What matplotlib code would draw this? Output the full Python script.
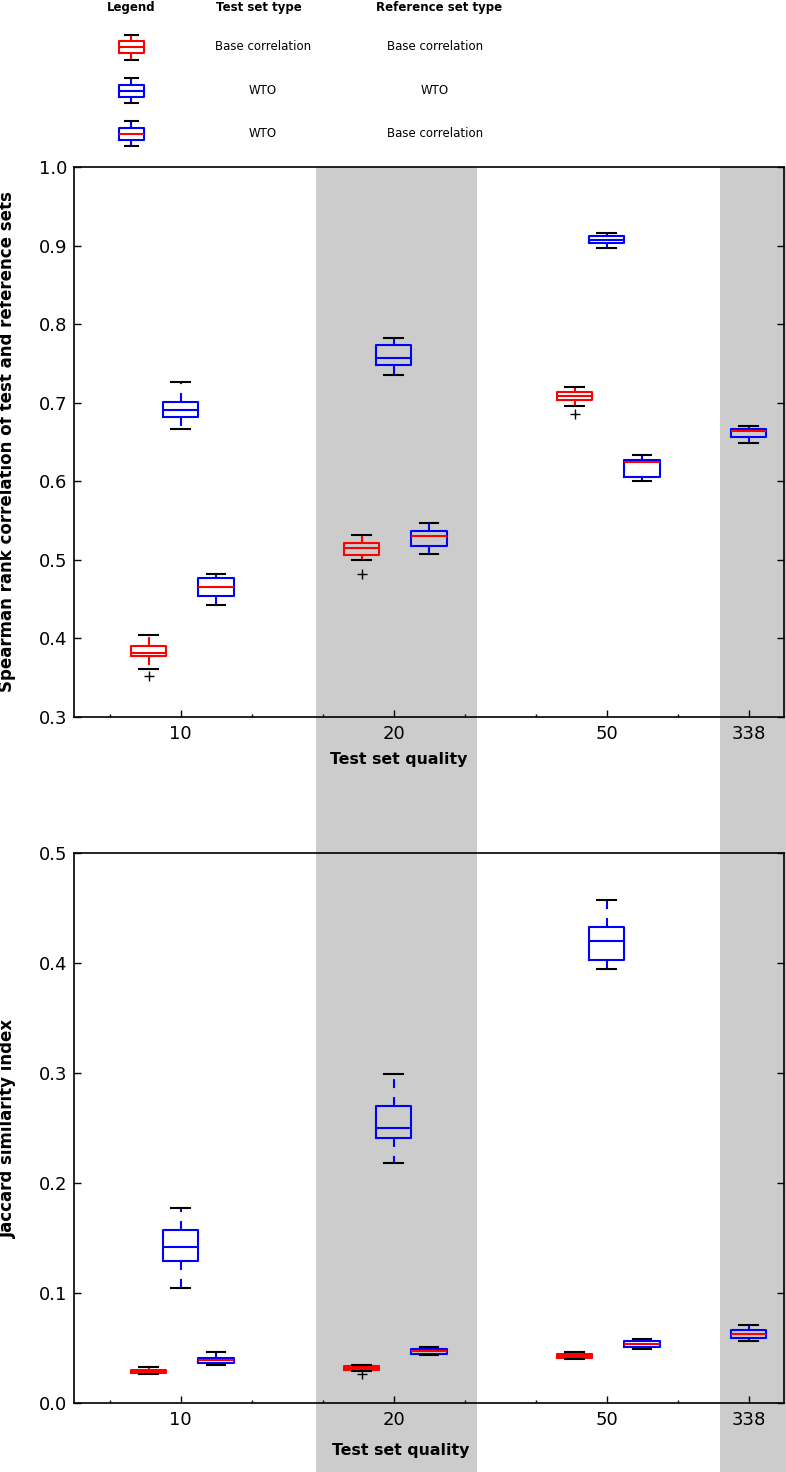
import matplotlib
matplotlib.use("Agg")
import matplotlib.pyplot as plt
from matplotlib import font_manager, transforms
from matplotlib.patches import Rectangle

# categorie sull'asse x
groups = ["10", "20", "50", "338"]
group_pos = [1, 7, 13, 17]

# statistiche dei box: (whisker basso, q1, mediana, q3, whisker alto)
# Spearman, test base / reference base (gruppi 10, 20, 50)
sp_base_base = [(0.361, 0.378, 0.381, 0.391, 0.405),
                (0.500, 0.506, 0.515, 0.522, 0.532),
                (0.696, 0.704, 0.709, 0.714, 0.720)]
sp_base_base_out = [[0.352], [0.482], [0.686]]
# Spearman, test WTO / reference WTO
sp_wto_wto = [(0.667, 0.682, 0.691, 0.701, 0.726),
              (0.735, 0.748, 0.757, 0.773, 0.782),
              (0.897, 0.903, 0.907, 0.912, 0.916)]
# Spearman, test WTO / reference base (gruppi 10, 20, 50, 338)
sp_wto_base = [(0.442, 0.454, 0.466, 0.477, 0.482),
               (0.508, 0.518, 0.530, 0.537, 0.547),
               (0.601, 0.606, 0.625, 0.627, 0.633),
               (0.649, 0.656, 0.664, 0.667, 0.671)]

# Jaccard
jc_base_base = [(0.026, 0.027, 0.0285, 0.030, 0.0325),
                (0.0294, 0.030, 0.0318, 0.0336, 0.0345),
                (0.0397, 0.0406, 0.0427, 0.0448, 0.0466)]
jc_base_base_out = [[], [0.0264], []]
jc_wto_wto = [(0.1045, 0.129, 0.142, 0.157, 0.177),
              (0.218, 0.241, 0.250, 0.270, 0.299),
              (0.395, 0.403, 0.420, 0.433, 0.457)]
jc_wto_base = [(0.0345, 0.0366, 0.0391, 0.0412, 0.0461),
               (0.0436, 0.0448, 0.047, 0.0494, 0.0506),
               (0.0488, 0.0512, 0.0536, 0.0566, 0.0585),
               (0.0561, 0.0594, 0.0627, 0.0661, 0.0706)]

offsets = [-0.9, 0.0, 1.0]


def draw_boxes(ax, pos, stats, fliers, box_c, med_c, width=1.0):
    if fliers is None:
        fliers = [[] for _ in stats]
    bstats = [dict(whislo=s[0], q1=s[1], med=s[2], q3=s[3], whishi=s[4], fliers=f)
              for s, f in zip(stats, fliers)]
    ax.bxp(bstats, positions=pos, widths=width, capwidths=width * 0.52,
           boxprops=dict(color=box_c, lw=1.5),
           medianprops=dict(color=med_c, lw=1.5),
           whiskerprops=dict(color=box_c, lw=1.5, linestyle=(0, (4.3, 4.3))),
           capprops=dict(color="k", lw=1.5),
           flierprops=dict(marker="+", markeredgecolor="k", markersize=7,
                           markeredgewidth=1, linestyle="none"),
           manage_ticks=False)


fig = plt.figure(figsize=(7.86, 14.72), dpi=100)
H = 1472.0
W = 786.0

ax1 = fig.add_axes([74 / W, 1 - 717 / H, 710 / W, 550 / H])
ax2 = fig.add_axes([74 / W, 1 - 1403 / H, 710 / W, 550 / H])

series = [
    (ax1, sp_base_base, sp_base_base_out, sp_wto_wto, sp_wto_base),
    (ax2, jc_base_base, jc_base_base_out, jc_wto_wto, jc_wto_base),
]
for ax, bb, bb_out, ww, wb in series:
    draw_boxes(ax, [g + offsets[0] for g in group_pos[:3]], bb, bb_out, "red", "red")
    draw_boxes(ax, [g + offsets[1] for g in group_pos[:3]], ww, None, "blue", "blue")
    draw_boxes(ax, [g + offsets[2] for g in group_pos[:3]] + [group_pos[3]], wb, None, "blue", "red")

ax1.set_ylim(0.3, 1.0)
ax1.set_yticks([0.3, 0.4, 0.5, 0.6, 0.7, 0.8, 0.9, 1.0])
ax2.set_ylim(0.0, 0.5)
ax2.set_yticks([0.0, 0.1, 0.2, 0.3, 0.4, 0.5])

for ax in (ax1, ax2):
    ax.set_facecolor("none")
    ax.set_xlim(-2, 18)
    ax.set_xticks(group_pos)
    ax.set_xticklabels(groups)
    ax.set_xticks([-1, 3, 5, 9, 11, 15], minor=True)
    ax.yaxis.set_major_formatter(plt.FormatStrFormatter("%.1f"))
    ax.tick_params(axis="both", which="major", direction="in", length=5, width=1,
                   labelsize=13, top=False, right=True)
    ax.tick_params(axis="x", which="major", pad=6)
    ax.tick_params(axis="y", which="major", pad=5)
    ax.tick_params(axis="x", which="minor", direction="in", length=2.5, width=1, top=False)
    for sp in ax.spines.values():
        sp.set_linewidth(1.2)
    ax.set_xlabel("Test set quality", fontsize=11.3, fontweight="bold")

ax1.set_ylabel("Spearman rank correlation of test and reference sets", fontsize=12, fontweight="bold")
ax2.set_ylabel("Jaccard similarity index", fontsize=12, fontweight="bold")
ax1.xaxis.set_label_coords(0.458, -0.064)
ax2.xaxis.set_label_coords(0.46, -0.072)
ax1.yaxis.set_label_coords(-0.081, 0.5)
ax2.yaxis.set_label_coords(-0.081, 0.5)

# bande grigie (dalla cima del grafico alto fino in fondo alla figura)
blend = transforms.blended_transform_factory(ax1.transData, fig.transFigure)
for x0, x1 in [(4.83, 9.34), (16.21, 18.2)]:
    fig.patches.append(Rectangle((x0, 0), x1 - x0, 1 - 167 / H, transform=blend,
                                 facecolor="#cccccc", edgecolor="none", zorder=-1))

# legenda in alto, disegnata in coordinate pixel
names = {f.name for f in font_manager.fontManager.ttflist}
if "Liberation Sans Narrow" in names:
    lfont, lsize = "Liberation Sans Narrow", 11
else:
    lfont, lsize = "DejaVu Sans", 8.5

leg = fig.add_axes([0, 1 - 160 / H, 1, 160 / H])
leg.set_xlim(0, W)
leg.set_ylim(160, 0)
leg.axis("off")
leg.set_facecolor("none")

headers = ["Legend", "Test set type", "Reference set type"]
header_x = [131, 259, 439]
test_types = ["Base correlation", "WTO", "WTO"]
ref_types = ["Base correlation", "WTO", "Base correlation"]
row_y = [47, 90.5, 133.5]
icon_colors = [("red", "red"), ("blue", "blue"), ("blue", "red")]

for hx, h in zip(header_x, headers):
    leg.text(hx, 8, h, ha="center", va="center", fontsize=lsize, fontweight="bold", family=lfont)
for y, t, r, (bc, mc) in zip(row_y, test_types, ref_types, icon_colors):
    draw_boxes(leg, [131], [(y + 12.5, y + 6, y, y - 6, y - 12.5)], None, bc, mc, width=25)
    leg.text(263, y, t, ha="center", va="center", fontsize=lsize, family=lfont)
    leg.text(435, y, r, ha="center", va="center", fontsize=lsize, family=lfont)

fig.savefig("out.png", dpi=100)
